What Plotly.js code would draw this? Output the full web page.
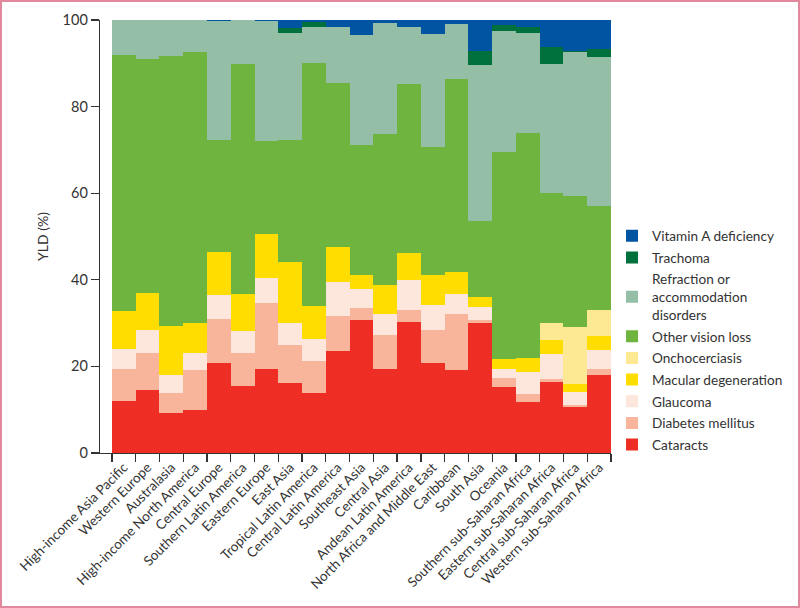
<!DOCTYPE html>
<html>
<head>
<meta charset="utf-8">
<script src="https://cdn.plot.ly/plotly-3.0.1.min.js"></script>
<style>
html,body{margin:0;padding:0;background:#fff;}
#wrap{position:relative;width:800px;height:608px;}
#chart{width:800px;height:608px;}
#frame{position:absolute;left:0;top:0;width:796px;height:604px;border:2px solid #e3899f;pointer-events:none;}
</style>
</head>
<body>
<div id="wrap"><div id="chart"></div><div id="frame"></div></div>
<script>
const regions = ["High-income Asia Pacific","Western Europe","Australasia","High-income North America","Central Europe","Southern Latin America","Eastern Europe","East Asia","Tropical Latin America","Central Latin America","Southeast Asia","Central Asia","Andean Latin America","North Africa and Middle East","Caribbean","South Asia","Oceania","Southern sub-Saharan Africa","Eastern sub-Saharan Africa","Central sub-Saharan Africa","Western sub-Saharan Africa"];

const cataracts   = [12.0,14.6,9.3,9.9,20.7,15.4,19.5,16.2,13.9,23.5,30.8,19.3,30.3,20.7,19.1,30.1,15.3,11.8,16.4,10.6,18.1];
const diabetes    = [7.3,8.6,4.6,9.3,10.2,7.8,15.2,8.8,7.4,8.2,2.7,7.9,2.7,7.7,12.9,0.6,2.1,1.8,0.8,0.4,1.2];
const glaucoma    = [4.8,5.2,4.1,3.8,5.7,5.0,5.7,5.1,5.1,7.8,4.3,4.9,6.9,5.7,4.8,3.0,1.9,5.1,5.6,3.0,4.6];
const macular     = [8.6,8.6,11.3,7.1,9.9,8.6,10.1,13.9,7.6,8.1,3.4,6.7,6.4,7.1,4.9,2.4,2.5,3.3,3.2,2.0,3.1];
const oncho       = [0,0,0,0,0,0,0,0,0,0,0,0,0,0,0,0,0,0,4.1,13.1,6.1];
const otherLoss   = [59.2,53.9,62.4,62.6,25.7,53.0,21.6,28.3,56.0,37.8,29.9,34.9,38.9,29.5,44.6,17.5,47.8,51.8,30.0,30.3,24.0];
const refraction  = [8.1,9.1,8.3,7.3,27.5,10.2,27.6,24.6,8.5,13.1,25.4,25.6,13.1,26.0,12.7,35.9,27.9,23.1,29.8,33.1,34.4];
const trachoma    = [0,0,0,0,0,0,0,1.2,1.0,0,0,0,0,0,0,3.3,1.4,1.4,3.8,0.3,1.7];
const vitaminA    = [0,0,0,0,0.3,0,0.3,1.9,0.5,1.5,3.5,0.7,1.7,3.3,1.0,7.2,1.1,1.7,6.3,7.2,6.8];

const seriesNames = ["Cataracts","Diabetes mellitus","Glaucoma","Macular degeneration","Onchocerciasis","Other vision loss","Refraction or<br>accommodation<br>disorders","Trachoma","Vitamin A deficiency"];
const seriesData = [cataracts,diabetes,glaucoma,macular,oncho,otherLoss,refraction,trachoma,vitaminA];
const seriesColors = ["#ee2e24","#f9b59c","#fde7dc","#ffdd00","#fde994","#6fb43f","#94bfa6","#00703c","#0054a2"];

const FONT = "Lato, 'Open Sans', sans-serif";
const traces = seriesData.map((d,i)=>({
  type:"bar", name:seriesNames[i], x:regions, y:d, legendgroup:"g"+i, legendrank:100-i,
  marker:{color:seriesColors[i], line:{width:0}},
  hoverinfo:"skip"
}));

const layout = {
  width:800, height:608,
  margin:{l:100, r:187, t:20, b:155.3},
  barmode:"stack", bargap:0,
  paper_bgcolor:"#fff", plot_bgcolor:"#fff",
  font:{family:FONT, color:"#333", size:13},
  showlegend:true,
  legend:{x:1.002, xanchor:"left", y:0.537, yanchor:"top", traceorder:"grouped",
          font:{family:FONT, size:13.6, color:"#333"}, tracegroupgap:1, bgcolor:"rgba(0,0,0,0)"},
  xaxis:{type:"category", range:[-1.003,20.5], showline:true, linecolor:"#333", linewidth:1.3,
         ticks:"outside", tickson:"boundaries", ticklen:8, tickcolor:"#333", tickwidth:1.3,
         tickangle:-45, tickfont:{family:FONT, size:13.5, color:"#333"}, showgrid:false, zeroline:false, fixedrange:true},
  yaxis:{range:[0,100], dtick:20, showline:true, linecolor:"#333", linewidth:1.3,
         ticks:"outside", ticklen:8, tickcolor:"#333", tickwidth:1.3,
         tickfont:{family:FONT, size:14.5, color:"#333"}, showgrid:false, zeroline:false,
         title:{text:"YLD (%)", font:{family:FONT, size:14, color:"#333"}, standoff:10}}
};
Plotly.newPlot("chart", traces, layout, {staticPlot:true});
</script>
</body>
</html>
